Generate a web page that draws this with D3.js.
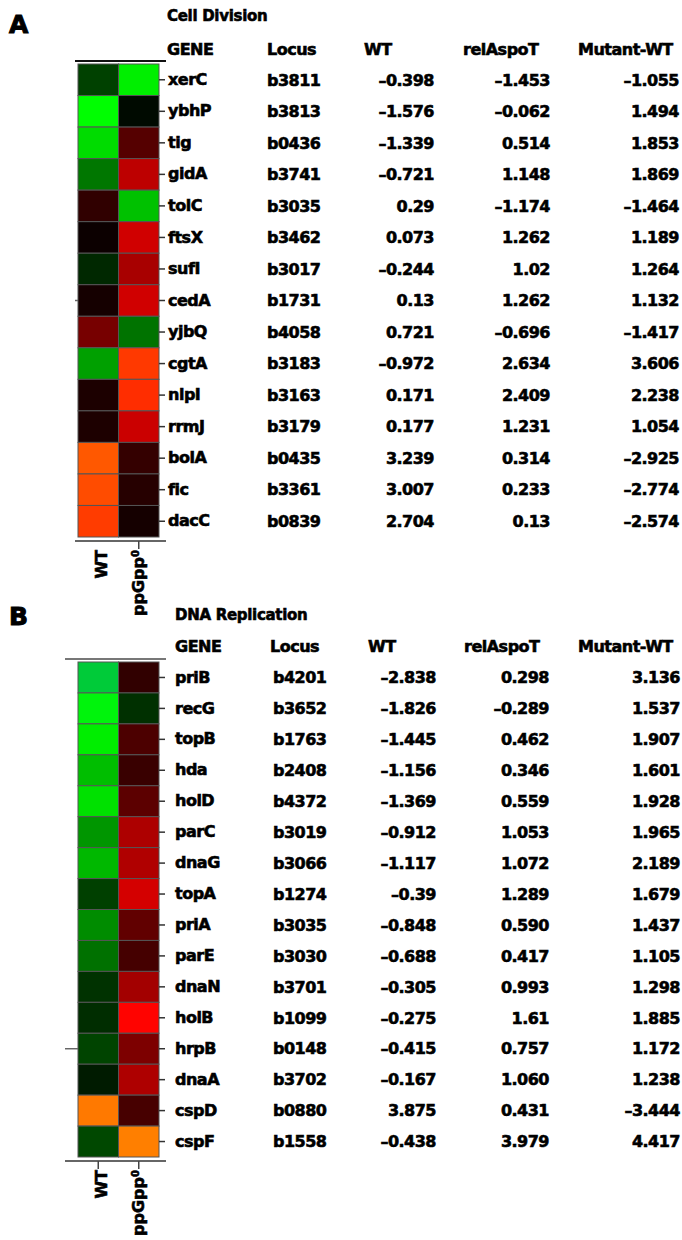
<!DOCTYPE html>
<html>
<head>
<meta charset="utf-8">
<script src="https://cdn.jsdelivr.net/npm/d3@7"></script>
<style>
  body { margin: 0; background: #fff; }
  text { font-family: "DejaVu Sans", "Liberation Sans", Arial, sans-serif; font-weight: bold; }
</style>
</head>
<body>
<div id="chart"></div>
<script>
// panel A - cell division
var genesA = ["xerC", "ybhP", "tig", "gidA", "tolC", "ftsX", "sufI", "cedA", "yjbQ", "cgtA", "nlpI", "rrmJ", "bolA", "fic", "dacC"];
var lociA = ["b3811", "b3813", "b0436", "b3741", "b3035", "b3462", "b3017", "b1731", "b4058", "b3183", "b3163", "b3179", "b0435", "b3361", "b0839"];
var wtA = ["-0.398", "-1.576", "-1.339", "-0.721", "0.29", "0.073", "-0.244", "0.13", "0.721", "-0.972", "0.171", "0.177", "3.239", "3.007", "2.704"];
var relA = ["-1.453", "-0.062", "0.514", "1.148", "-1.174", "1.262", "1.02", "1.262", "-0.696", "2.634", "2.409", "1.231", "0.314", "0.233", "0.13"];
var mutA = ["-1.055", "1.494", "1.853", "1.869", "-1.464", "1.189", "1.264", "1.132", "-1.417", "3.606", "2.238", "1.054", "-2.925", "-2.774", "-2.574"];

// panel B - DNA replication
var genesB = ["priB", "recG", "topB", "hda", "holD", "parC", "dnaG", "topA", "priA", "parE", "dnaN", "holB", "hrpB", "dnaA", "cspD", "cspF"];
var lociB = ["b4201", "b3652", "b1763", "b2408", "b4372", "b3019", "b3066", "b1274", "b3035", "b3030", "b3701", "b1099", "b0148", "b3702", "b0880", "b1558"];
var wtB = ["-2.838", "-1.826", "-1.445", "-1.156", "-1.369", "-0.912", "-1.117", "-0.39", "-0.848", "-0.688", "-0.305", "-0.275", "-0.415", "-0.167", "3.875", "-0.438"];
var relB = ["0.298", "-0.289", "0.462", "0.346", "0.559", "1.053", "1.072", "1.289", "0.590", "0.417", "0.993", "1.61", "0.757", "1.060", "0.431", "3.979"];
var mutB = ["3.136", "1.537", "1.907", "1.601", "1.928", "1.965", "2.189", "1.679", "1.437", "1.105", "1.298", "1.885", "1.172", "1.238", "-3.444", "4.417"];

var columns = ["WT", "ppGpp"];
var headers = ["GENE", "Locus", "WT", "relAspoT", "Mutant-WT"];

var W = 682, H = 1240;
var svg = d3.select("#chart").append("svg").attr("width", W).attr("height", H);

// green - black - red - orange
var color = d3.scaleLinear()
    .domain([-2.9, -1.55, 0, 1.55, 4.0])
    .range(["#00c83c", "#00ff00", "#000000", "#ff0000", "#ff8000"])
    .clamp(true);

function fmt(s) { return s.replace("-", "\u2013"); }

function drawPanel(p) {
  var g = svg.append("g");
  var rows = p.genes.map(function (d, i) {
    return { gene: d, locus: p.loci[i], wt: p.wt[i], rel: p.rel[i], mut: p.mut[i] };
  });

  var x = d3.scaleBand().domain(columns).range([78, 159]);
  var y = d3.scaleBand().domain(p.genes).range([p.top, p.bottom]);

  g.append("text").attr("x", 9).attr("y", p.letterY).attr("font-size", 25)
    .attr("stroke", "#000").attr("stroke-width", 1).text(p.letter);
  g.append("text").attr("x", p.titleX).attr("y", p.titleY).attr("font-size", 15)
    .attr("letter-spacing", -0.3).attr("stroke", "#000").attr("stroke-width", 0.6).text(p.title);

  g.selectAll(".hdr").data(headers).enter().append("text")
    .attr("x", function (d, i) { return p.headX[i]; })
    .attr("y", p.headY)
    .attr("font-size", 16).attr("letter-spacing", -0.5)
    .attr("stroke", "#000").attr("stroke-width", 0.6)
    .text(function (d) { return d; });

  // cells
  rows.forEach(function (r) {
    g.append("rect").attr("x", x("WT")).attr("y", y(r.gene))
      .attr("width", x.bandwidth()).attr("height", y.bandwidth())
      .attr("fill", color(+r.wt)).attr("stroke", "#555").attr("stroke-width", 1);
    g.append("rect").attr("x", x("ppGpp")).attr("y", y(r.gene))
      .attr("width", x.bandwidth()).attr("height", y.bandwidth())
      .attr("fill", color(+r.rel)).attr("stroke", "#555").attr("stroke-width", 1);
  });

  // frame lines
  g.append("line").attr("x1", p.lineX0).attr("x2", 166).attr("y1", p.top - 3).attr("y2", p.top - 3)
    .attr("stroke", p.topLine).attr("stroke-width", 2);
  g.append("line").attr("x1", p.lineX0).attr("x2", 166).attr("y1", p.bottom + 4).attr("y2", p.bottom + 4)
    .attr("stroke", "#666").attr("stroke-width", 2);
  g.append("line").attr("x1", p.lineX0).attr("x2", 78)
    .attr("y1", y(p.leftTick) + y.bandwidth() / 2).attr("y2", y(p.leftTick) + y.bandwidth() / 2)
    .attr("stroke", "#666").attr("stroke-width", 1.5);

  // gene axis on the right
  var ya = g.append("g").attr("transform", "translate(159,0)")
    .call(d3.axisRight(y).tickSize(6).tickSizeOuter(0).tickPadding(p.geneX - 165));
  ya.select(".domain").remove();
  ya.selectAll("line").attr("stroke", "#333").attr("stroke-width", 1.5);
  ya.selectAll("text").attr("font-size", 16).attr("letter-spacing", -0.5)
    .attr("stroke", "#000").attr("stroke-width", 0.6);
  ya.attr("font-family", null).attr("font-size", null);

  // column axis at bottom
  var xa = g.append("g").attr("transform", "translate(0," + (p.bottom + 4) + ")")
    .call(d3.axisBottom(x).tickSize(8).tickSizeOuter(0));
  xa.select(".domain").remove();
  xa.selectAll("line").attr("stroke", "#444").attr("stroke-width", 1.5)
    .attr("opacity", function (d) { return d === "WT" && !p.wtTick ? 0 : 1; });
  xa.attr("font-family", null).attr("font-size", null);
  xa.selectAll("text")
    .attr("transform", "rotate(-90)")
    .attr("text-anchor", "end")
    .attr("x", -9).attr("y", 0)
    .attr("dy", function (d) { return d === "WT" ? "0.55em" : "0.35em"; })
    .attr("font-size", 16).attr("fill", "#000")
    .attr("stroke", "#000").attr("stroke-width", 0.6)
    .text(null)
    .each(function (d) {
      var t = d3.select(this);
      if (d === "WT") {
        t.append("tspan").text("WT");
      } else {
        t.append("tspan").text("ppGpp");
        t.append("tspan").attr("baseline-shift", "super").attr("font-size", 10).text("0");
      }
    });

  // table values
  var cols = [
    { key: "locus", x: p.locusX, anchor: "start" },
    { key: "wt", x: p.wtX, anchor: "end" },
    { key: "rel", x: p.relX, anchor: "end" },
    { key: "mut", x: p.mutX, anchor: "end" }
  ];
  cols.forEach(function (c) {
    g.selectAll(".v-" + c.key).data(rows).enter().append("text")
      .attr("x", c.x)
      .attr("y", function (d) { return y(d.gene) + y.bandwidth() / 2; })
      .attr("dy", "0.36em")
      .attr("text-anchor", c.anchor)
      .attr("font-size", 16).attr("letter-spacing", -0.5)
      .attr("stroke", "#000").attr("stroke-width", 0.6)
      .text(function (d) { return c.key === "locus" ? d[c.key] : fmt(d[c.key]); });
  });
}

drawPanel({
  letter: "A", title: "Cell Division",
  genes: genesA, loci: lociA, wt: wtA, rel: relA, mut: mutA,
  top: 64, bottom: 537, letterY: 33, titleX: 167, titleY: 21, headY: 55,
  headX: [167, 267, 364, 463, 578],
  lineX0: 75, topLine: "#111", leftTick: "cedA", wtTick: false,
  geneX: 168, locusX: 267, wtX: 434, relX: 550, mutX: 679
});

drawPanel({
  letter: "B", title: "DNA Replication",
  genes: genesB, loci: lociB, wt: wtB, rel: relB, mut: mutB,
  top: 662, bottom: 1157, letterY: 625, titleX: 175, titleY: 620, headY: 652,
  headX: [175, 270, 368, 464, 578],
  lineX0: 65, topLine: "#777", leftTick: "hrpB", wtTick: true,
  geneX: 175, locusX: 273, wtX: 436, relX: 549, mutX: 680
});
</script>
</body>
</html>
